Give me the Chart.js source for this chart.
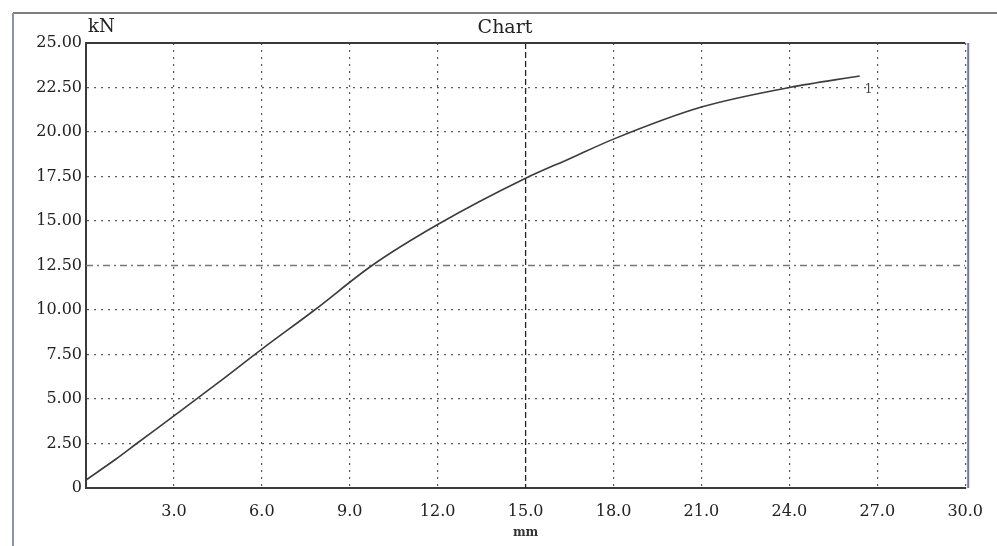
<!DOCTYPE html>
<html>
<head>
<meta charset="utf-8">
<title>Chart</title>
<script src="https://cdn.jsdelivr.net/npm/chart.js@4.4.0/dist/chart.umd.min.js"></script>
<style>
  html, body { margin: 0; padding: 0; background: #fff; }
  #wrap { width: 997px; height: 546px; }
</style>
</head>
<body>
<div id="wrap"><canvas id="myChart" width="997" height="546"></canvas></div>
<script>
// values (mm / kN)
const displacement = [0, 1.0, 1.73, 3.0, 4.5, 6.0, 7.8, 9.76, 12.0, 15.0, 16.5, 18.0, 21.0, 24.0, 26.4]
const force = [0.45, 1.6, 2.5, 4.05, 5.9, 7.8, 10.0, 12.5, 14.8, 17.4, 18.5, 19.6, 21.4, 22.5, 23.15]
const xTicks = [0, 3, 6, 9, 12, 15, 18, 21, 24, 27, 30]
const yTicks = [0, 2.5, 5, 7.5, 10, 12.5, 15, 17.5, 20, 22.5, 25]
const curveName = '1'

const serif = 'DejaVu Serif'

/**
 * draws the frame, the two centre lines and the loose texts
 */
const framePlugin = {
  id: 'frame',
  beforeDatasetsDraw (chart) {
    const { ctx, chartArea: a, scales: { x, y } } = chart
    ctx.save()
    // vertical centre line at 15.0
    const cx = x.getPixelForValue(15)
    ctx.strokeStyle = '#222'
    ctx.lineWidth = 1.3
    ctx.setLineDash([6, 3])
    ctx.beginPath()
    ctx.moveTo(cx, a.top)
    ctx.lineTo(cx, a.bottom)
    ctx.stroke()
    // horizontal centre line at 12.50
    const cy = y.getPixelForValue(12.5)
    ctx.strokeStyle = '#777'
    ctx.lineWidth = 1.6
    ctx.setLineDash([7, 4, 2, 4])
    ctx.beginPath()
    ctx.moveTo(a.left, cy)
    ctx.lineTo(a.right, cy)
    ctx.stroke()
    ctx.restore()
  },
  afterDraw (chart) {
    const { ctx, chartArea: a, scales: { x, y } } = chart
    ctx.save()
    // top + right border of plot
    ctx.lineWidth = 2
    ctx.strokeStyle = '#3a3a3a'
    ctx.beginPath()
    ctx.moveTo(a.left, a.top)
    ctx.lineTo(a.right, a.top)
    ctx.stroke()
    ctx.strokeStyle = '#767b98'
    ctx.beginPath()
    ctx.moveTo(a.right + 3, a.top)
    ctx.lineTo(a.right + 3, a.bottom)
    ctx.stroke()
    // outer window frame
    ctx.lineWidth = 1.5
    ctx.strokeStyle = '#555'
    ctx.beginPath()
    ctx.moveTo(13, 13)
    ctx.lineTo(chart.width, 13)
    ctx.stroke()
    ctx.lineWidth = 2
    ctx.strokeStyle = '#8a90ae'
    ctx.beginPath()
    ctx.moveTo(13, 13)
    ctx.lineTo(13, chart.height)
    ctx.stroke()
    // texts
    ctx.fillStyle = '#222'
    ctx.textBaseline = 'middle'
    ctx.font = '19px "' + serif + '"'
    ctx.textAlign = 'center'
    ctx.fillText('Chart', 505, a.top - 15)
    ctx.font = '18px "' + serif + '"'
    ctx.textAlign = 'left'
    ctx.fillText('kN', a.left + 2, a.top - 16)
    // curve name next to the last point
    const last = displacement.length - 1
    ctx.font = '12px "' + serif + '"'
    ctx.fillStyle = '#444'
    ctx.fillText(curveName, x.getPixelForValue(displacement[last]) + 5, y.getPixelForValue(force[last]) + 14)
    ctx.restore()
  }
}

window.onload = function () {
  const ctx = document.getElementById('myChart').getContext('2d')
  const points = displacement.map((d, i) => ({ x: d, y: force[i] }))
  const myChart = new Chart(ctx, {
    type: 'line',
    data: {
      datasets: [{
        label: curveName,
        data: points,
        borderColor: '#3c3c3c',
        borderWidth: 1.6,
        pointRadius: 0,
        fill: false,
        cubicInterpolationMode: 'monotone'
      }]
    },
    options: {
      responsive: false,
      animation: false,
      devicePixelRatio: 1,
      layout: { padding: { top: 43, left: 0, right: 29, bottom: 0 } },
      plugins: {
        legend: { display: false },
        title: { display: false },
        tooltip: { enabled: false }
      },
      scales: {
        x: {
          type: 'linear',
          min: 0,
          max: 30,
          afterBuildTicks: (s) => { s.ticks = xTicks.map(v => ({ value: v })) },
          afterFit: (s) => { s.height = 58 },
          ticks: {
            autoSkip: false,
            maxRotation: 0,
            padding: 14,
            color: '#222',
            font: { family: serif, size: 16 },
            callback: (v) => v === 0 ? '' : Number(v).toFixed(1)
          },
          grid: {
            drawTicks: false,
            color: (c) => c.tick && c.tick.value === 15 ? 'rgba(0,0,0,0)' : '#5a5a5a',
            lineWidth: 1.2
          },
          border: { color: '#3a3a3a', width: 2, dash: [2, 5] },
          title: {
            display: true,
            text: 'mm',
            color: '#333',
            font: { family: serif, size: 12, weight: 'bold' },
            padding: { top: 0, bottom: 6 }
          }
        },
        y: {
          type: 'linear',
          min: 0,
          max: 25,
          afterBuildTicks: (s) => { s.ticks = yTicks.map(v => ({ value: v })) },
          afterFit: (s) => { s.width = 86 },
          ticks: {
            padding: 4,
            color: '#222',
            font: { family: serif, size: 16 },
            callback: (v) => v === 0 ? '0' : Number(v).toFixed(2)
          },
          grid: {
            drawTicks: false,
            color: (c) => c.tick && c.tick.value === 12.5 ? 'rgba(0,0,0,0)' : '#5a5a5a',
            lineWidth: 1.2
          },
          border: { color: '#3a3a3a', width: 2, dash: [2, 5] }
        }
      }
    },
    plugins: [framePlugin]
  })
}
</script>
</body>
</html>
